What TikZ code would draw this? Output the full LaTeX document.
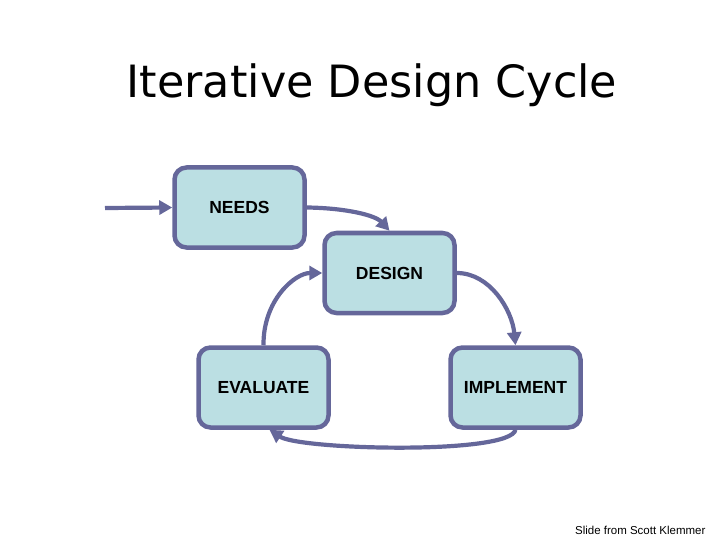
\documentclass[tikz,border=0pt]{standalone}
\usepackage{fontspec}
\setmainfont{Liberation Sans}
\newfontfamily\titlefont{DejaVu Sans}
\usetikzlibrary{arrows.meta}
\definecolor{edgec}{HTML}{65679A}
\definecolor{fillc}{HTML}{BBDFE3}
\tikzset{
  stage/.style={draw=edgec, line width=4.5pt, fill=fillc, rounded corners=12pt,
    minimum width=130pt, minimum height=80pt, font=\bfseries\fontsize{17.5}{20}\selectfont, inner sep=0pt},
  flow/.style={draw=edgec, line width=4.2pt, -{Triangle[length=13pt,width=14pt]}}
}
\begin{document}
\begin{tikzpicture}[x=1pt,y=-1pt]
\useasboundingbox (0,0) rectangle (720,540);
\node[font=\titlefont\fontsize{44.5}{50}\selectfont] (title) at (372,85) {Iterative Design Cycle};
\node[stage] (needs) at (239.5,207.5) {NEEDS};
\node[stage] (design) at (389.5,273) {DESIGN};
\node[stage] (evaluate) at (263.5,387.5) {EVALUATE};
\node[stage] (implement) at (515.5,387.5) {IMPLEMENT};
\coordinate (start) at (105,208);
\draw[flow] (start) -- (needs.west);
\draw[flow] (needs.east) .. controls (345,208) and (375,215) .. (design.north);
\draw[flow] (design.east) .. controls (490,273) and (512,310) .. (implement.north);
\draw[flow] (implement.south) .. controls (510,455) and (300,450) .. ([xshift=6pt]evaluate.south);
\draw[flow] (evaluate.north) .. controls (263,300) and (295,273) .. (design.west);
\node[font=\fontsize{11.5}{13}\selectfont, anchor=east] (credit) at (709,530) {Slide from Scott Klemmer};
\end{tikzpicture}
\end{document}
